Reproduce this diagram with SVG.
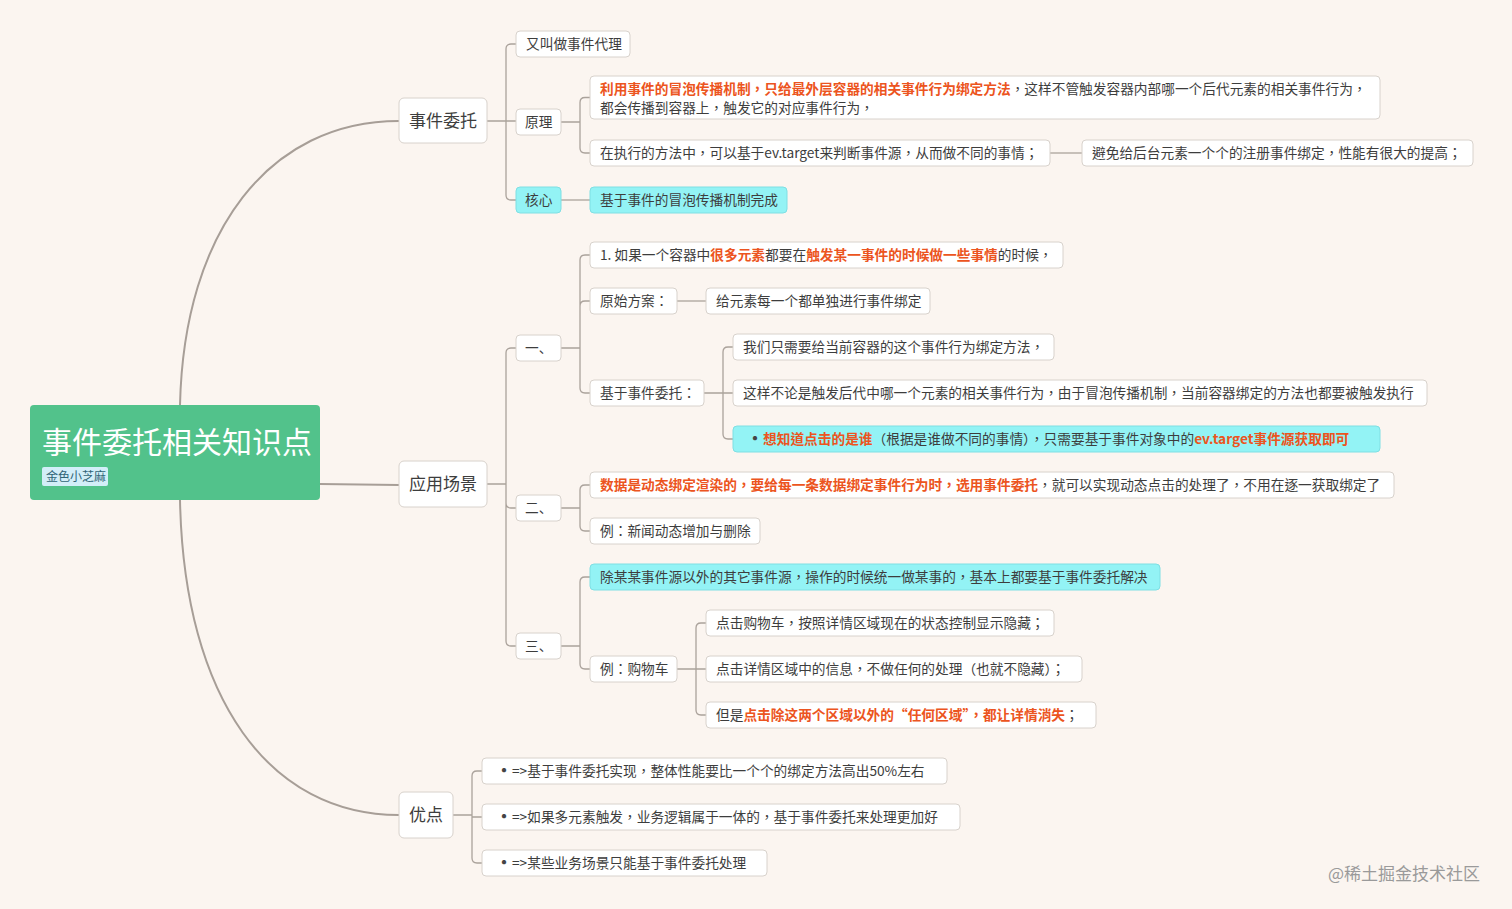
<svg xmlns="http://www.w3.org/2000/svg" width="1512" height="909" viewBox="0 0 1512 909">
<style>
text{font-family:"Noto Sans CJK TC","Noto Sans CJK SC","Noto Sans",sans-serif;fill:#3d3d3d;font-size:13.7px}
text.sc{font-family:"Noto Sans CJK SC","Noto Sans",sans-serif}
.box{fill:#ffffff;stroke:#d8d2cc;stroke-width:1}
.cyan{fill:#93f3f5;stroke:#7fdfe3;stroke-width:1}
.l1 text{font-size:17px}
.hl{fill:#ec5420;font-weight:bold}
.bul{font-size:20px;fill:#444}
.main{fill:none;stroke:#a79e97;stroke-width:2}
.br{fill:none;stroke:#aaa29b;stroke-width:1.3}
</style>
<rect width="1512" height="909" fill="#fbf5f0"/>
<g id="connectors">
<path class="main" d="M180,405 C184,230 270,121 399,121"/>
<path class="main" d="M320,484 L399,485"/>
<path class="main" d="M180,500 C184,700 270,815 399,815"/>
<path class="br" d="M487,121 H506 M506,121 V49 Q506,44 511,44 H516 M506,121 H516 M506,121 V195 Q506,200 511,200 H516"/>
<path class="br" d="M561,122 H580 M580,122 V102.5 Q580,97.5 585,97.5 H590 M580,122 V148 Q580,153 585,153 H590"/>
<path class="br" d="M1050,153 H1082"/>
<path class="br" d="M561,200 H590"/>
<path class="br" d="M487,484 H506 M506,484 V353 Q506,348 511,348 H516 M506,484 V503 Q506,508 511,508 H516 M506,484 V641 Q506,646 511,646 H516"/>
<path class="br" d="M561,348 H580 M580,348 V260 Q580,255 585,255 H590 M580,348 V306 Q580,301 585,301 H590 M580,348 V388 Q580,393 585,393 H590"/>
<path class="br" d="M677,301 H706"/>
<path class="br" d="M704,393 H723 M723,393 V352 Q723,347 728,347 H733 M723,393 H733 M723,393 V434 Q723,439 728,439 H733"/>
<path class="br" d="M561,508 H580 M580,508 V490 Q580,485 585,485 H590 M580,508 V526 Q580,531 585,531 H590"/>
<path class="br" d="M561,646 H580 M580,646 V582 Q580,577 585,577 H590 M580,646 V664 Q580,669 585,669 H590"/>
<path class="br" d="M677,669 H696 M696,669 V628 Q696,623 701,623 H706 M696,669 H706 M696,669 V710 Q696,715 701,715 H706"/>
<path class="br" d="M453,815 H472 M472,815 V776 Q472,771 477,771 H482 M472,815 V817 H482 M472,815 V858 Q472,863 477,863 H482"/>
</g>
<g id="n-root">
<rect x="30" y="405" width="290" height="95" rx="4" fill="#52c28b"/>
<text x="42" y="453" style="font-size:30px;fill:#ffffff">事件委托相关知识点</text>
<rect x="42" y="467" width="66" height="19" rx="2" fill="#d2eef8"/>
<text x="46" y="481" style="font-size:12px;fill:#2f6476">金色小芝麻</text>
</g>
<g id="n-wt" class="l1"><rect class="box" x="399" y="98" width="88" height="45" rx="5"/><text x="443" y="127" text-anchor="middle">事件委托</text></g>
<g id="n-yy" class="l1"><rect class="box" x="399" y="461" width="88" height="46" rx="5"/><text x="443" y="490" text-anchor="middle">应用场景</text></g>
<g id="n-yd" class="l1"><rect class="box" x="399" y="792" width="54" height="46" rx="5"/><text x="426" y="821" text-anchor="middle">优点</text></g>

<g id="n-a1"><rect class="box" x="516" y="31" width="114" height="26" rx="4"/><text x="526" y="49">又叫做事件代理</text></g>
<g id="n-a2"><rect class="box" x="516" y="109" width="45" height="26" rx="4"/><text x="525" y="127">原理</text></g>
<g id="n-a3"><rect class="cyan" x="516" y="187" width="45" height="26" rx="4"/><text x="525" y="205">核心</text></g>
<g id="n-a2-1"><rect class="box" x="590" y="76" width="790" height="43" rx="4"/><text x="600" y="94"><tspan class="hl">利用事件的冒泡传播机制，只给最外层容器的相关事件行为绑定方法</tspan>，这样不管触发容器内部哪一个后代元素的相关事件行为，</text><text x="600" y="113">都会传播到容器上，触发它的对应事件行为，</text></g>
<g id="n-a2-2"><rect class="box" x="590" y="140" width="460" height="26" rx="4"/><text x="600" y="158">在执行的方法中，可以基于ev.target来判断事件源，从而做不同的事情；</text></g>
<g id="n-a2-2-1"><rect class="box" x="1082" y="140" width="391" height="26" rx="4"/><text x="1092" y="158">避免给后台元素一个个的注册事件绑定，性能有很大的提高；</text></g>
<g id="n-a3-1"><rect class="cyan" x="590" y="187" width="197" height="26" rx="4"/><text x="600" y="205">基于事件的冒泡传播机制完成</text></g>

<g id="n-b1"><rect class="box" x="516" y="335" width="45" height="26" rx="4"/><text class="sc" x="525" y="353">一、</text></g>
<g id="n-b2"><rect class="box" x="516" y="495" width="45" height="26" rx="4"/><text class="sc" x="525" y="513">二、</text></g>
<g id="n-b3"><rect class="box" x="516" y="633" width="45" height="26" rx="4"/><text class="sc" x="525" y="651">三、</text></g>
<g id="n-b1-1"><rect class="box" x="590" y="242" width="473" height="26" rx="4"/><text x="600" y="260">1. 如果一个容器中<tspan class="hl">很多元素</tspan>都要在<tspan class="hl">触发某一事件的时候做一些事情</tspan>的时候，</text></g>
<g id="n-b1-2"><rect class="box" x="590" y="288" width="87" height="26" rx="4"/><text x="600" y="306">原始方案：</text></g>
<g id="n-b1-2-1"><rect class="box" x="706" y="288" width="224" height="26" rx="4"/><text x="716" y="306">给元素每一个都单独进行事件绑定</text></g>
<g id="n-b1-3"><rect class="box" x="590" y="380" width="114" height="26" rx="4"/><text x="600" y="398">基于事件委托：</text></g>
<g id="n-b1-3-1"><rect class="box" x="733" y="334" width="321" height="26" rx="4"/><text x="743" y="352">我们只需要给当前容器的这个事件行为绑定方法，</text></g>
<g id="n-b1-3-2"><rect class="box" x="733" y="380" width="694" height="26" rx="4"/><text x="743" y="398">这样不论是触发后代中哪一个元素的相关事件行为，由于冒泡传播机制，当前容器绑定的方法也都要被触发执行</text></g>
<g id="n-b1-3-3"><rect class="cyan" x="733" y="426" width="647" height="26" rx="4"/><text class="bul" x="745" y="446">•</text><text x="763" y="444"><tspan class="hl">想知道点击的是谁</tspan>（根据是谁做不同的事情），只需要基于事件对象中的<tspan class="hl">ev.target事件源获取即可</tspan></text></g>
<g id="n-b2-1"><rect class="box" x="590" y="472" width="804" height="26" rx="4"/><text x="600" y="490"><tspan class="hl">数据是动态绑定渲染的，要给每一条数据绑定事件行为时，选用事件委托</tspan>，就可以实现动态点击的处理了，不用在逐一获取绑定了</text></g>
<g id="n-b2-2"><rect class="box" x="590" y="518" width="170" height="26" rx="4"/><text x="600" y="536">例：新闻动态增加与删除</text></g>
<g id="n-b3-1"><rect class="cyan" x="590" y="564" width="570" height="26" rx="4"/><text x="600" y="582">除某某事件源以外的其它事件源，操作的时候统一做某事的，基本上都要基于事件委托解决</text></g>
<g id="n-b3-2"><rect class="box" x="590" y="656" width="87" height="26" rx="4"/><text x="600" y="674">例：购物车</text></g>
<g id="n-b3-2-1"><rect class="box" x="706" y="610" width="348" height="26" rx="4"/><text x="716" y="628">点击购物车，按照详情区域现在的状态控制显示隐藏；</text></g>
<g id="n-b3-2-2"><rect class="box" x="706" y="656" width="376" height="26" rx="4"/><text x="716" y="674">点击详情区域中的信息，不做任何的处理（也就不隐藏）；</text></g>
<g id="n-b3-2-3"><rect class="box" x="706" y="702" width="390" height="26" rx="4"/><text x="716" y="720">但是<tspan class="hl">点击除这两个区域以外的“任何区域”，都让详情消失</tspan>；</text></g>

<g id="n-c1"><rect class="box" x="482" y="758" width="465" height="26" rx="4"/><text class="bul" x="494" y="778">•</text><text x="512" y="776">=&gt;基于事件委托实现，整体性能要比一个个的绑定方法高出50%左右</text></g>
<g id="n-c2"><rect class="box" x="482" y="804" width="478" height="26" rx="4"/><text class="bul" x="494" y="824">•</text><text x="512" y="822">=&gt;如果多元素触发，业务逻辑属于一体的，基于事件委托来处理更加好</text></g>
<g id="n-c3"><rect class="box" x="482" y="850" width="285" height="26" rx="4"/><text class="bul" x="494" y="870">•</text><text x="512" y="868">=&gt;某些业务场景只能基于事件委托处理</text></g>

<text x="1328" y="880" style="font-size:17px;fill:#9a9a9a">@稀土掘金技术社区</text>
</svg>
